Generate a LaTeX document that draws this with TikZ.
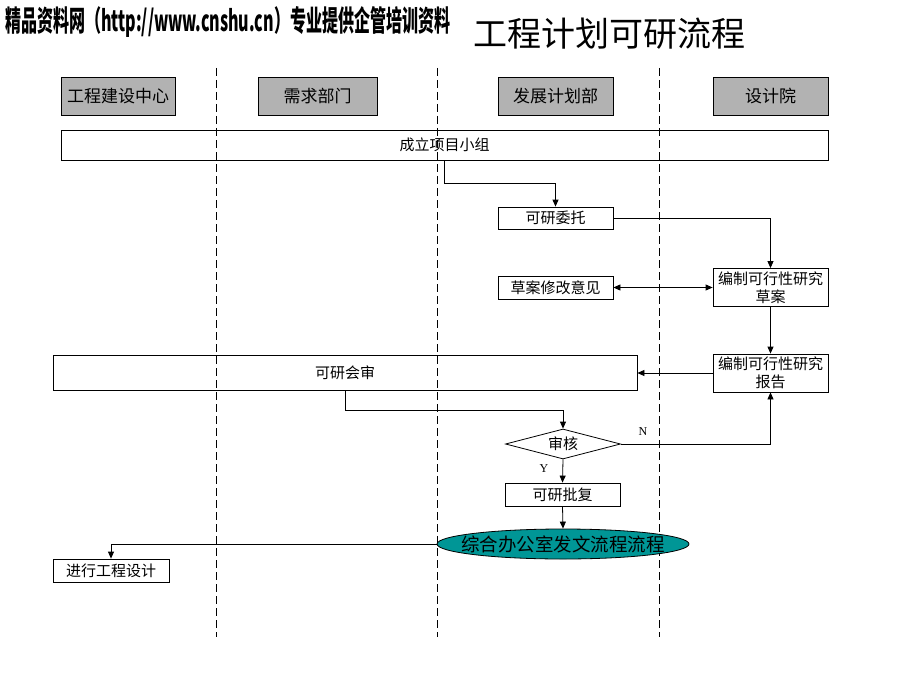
\documentclass[tikz,border=0pt]{standalone}
\usepackage{fontspec}
\usepackage{graphicx}
\usetikzlibrary{arrows.meta,shapes.geometric}
\newfontfamily\cjk{Noto Sans CJK SC}
\newfontfamily\wmfont{Noto Sans CJK SC}
\newfontfamily\lserif{Liberation Serif}
\definecolor{hdrgray}{RGB}{178,178,178}
\definecolor{tealfill}{RGB}{0,150,150}
\tikzset{
  box/.style={draw=black, line width=0.8pt, rectangle, inner sep=0pt, align=center,
    font=\cjk\fontsize{15}{18}\selectfont},
  hdrbox/.style={box, fill=hdrgray, font=\cjk\fontsize{17}{20}\selectfont},
  laneline/.style={line width=0.8pt, dash pattern=on 8pt off 4pt},
  arr/.style={line width=0.8pt, -{Triangle[length=7pt,width=6pt]}},
  darr/.style={line width=0.8pt, {Triangle[length=7pt,width=6pt]}-{Triangle[length=7pt,width=6pt]}},
  yn/.style={font=\lserif\fontsize{12}{12}\selectfont, inner sep=0pt}
}
\begin{document}
\begin{tikzpicture}[x=1pt,y=-1pt]
\useasboundingbox (0,0) rectangle (920,690);
\fill[white] (0,0) rectangle (920,690);

% title
\node[anchor=west, inner sep=0pt, font=\cjk\fontsize{34}{34}\selectfont] (title) at (473,34) {工程计划可研流程};
% watermark
\fill[white] (0,0) rectangle (456,44);
\node[anchor=west, inner sep=0pt] (wm) at (5,22) {\resizebox*{445pt}{31pt}{\wmfont\bfseries 精品资料网（http://www.cnshu.cn）专业提供企管培训资料}};

% lanes
\draw[laneline] (216,68) -- (216,637);
\draw[laneline] (437,68) -- (437,637);
\draw[laneline] (659,68) -- (659,637);

% headers
\node[hdrbox, minimum width=114pt, minimum height=38pt] (h1) at (118,96) {工程建设中心};
\node[hdrbox, minimum width=119pt, minimum height=38pt] (h2) at (317.5,96) {需求部门};
\node[hdrbox, minimum width=115pt, minimum height=38pt] (h3) at (555.5,96) {发展计划部};
\node[hdrbox, minimum width=115pt, minimum height=38pt] (h4) at (770.5,96) {设计院};

% process boxes
\node[box, minimum width=767pt, minimum height=30pt] (zu) at (444.5,145) {成立项目小组};
\node[box, minimum width=115pt, minimum height=22pt] (wt) at (555.5,218) {可研委托};
\node[box, minimum width=115pt, minimum height=23pt] (cy) at (555.5,287.5) {草案修改意见};
\node[box, minimum width=115pt, minimum height=38pt] (ca) at (770.5,287.5) {编制可行性研究\\草案};
\node[box, minimum width=115pt, minimum height=38pt] (bg) at (770.5,373) {编制可行性研究\\报告};
\node[box, minimum width=584pt, minimum height=35pt] (hs) at (345,373) {可研会审};
\node[draw=black, line width=0.8pt, diamond, aspect=3.8, minimum width=115pt, minimum height=30pt, inner sep=0pt,
  font=\cjk\fontsize{15}{18}\selectfont] (dia) at (563,444) {审核};
\node[box, minimum width=115pt, minimum height=23pt] (pf) at (562.5,494.5) {可研批复};
\node[draw=black, line width=0.8pt, ellipse, fill=tealfill, minimum width=252pt, minimum height=30pt, inner sep=0pt] (fw) at (563,544) {};
\node[inner sep=0pt, font=\cjk\fontsize{18.5}{20}\selectfont] (fwtext) at (fw.center) {综合办公室发文流程流程};
\node[box, minimum width=116pt, minimum height=23pt] (sj) at (111,570.5) {进行工程设计};

% connectors
\draw[arr] (zu.south) -- ++(0,23) -| (wt.north);
\draw[arr] (wt.east) -| (ca.north);
\draw[darr] (cy.east) -- (ca.west);
\draw[arr] (ca.south) -- (bg.north);
\draw[arr] (bg.west) -- (hs.east);
\draw[arr] (hs.south) -- ++(0,19) -| (dia.north);
\draw[arr] (dia.east) -| (bg.south);
\draw[arr] (dia.south) -- (pf.north);
\draw[arr] (pf.south) -- (fw.north);
\draw[arr] (fw.west) -| (sj.north);

\node[yn] (nlab) at (643,432) {N};
\node[yn] (ylab) at (544,469) {Y};
\end{tikzpicture}
\end{document}
